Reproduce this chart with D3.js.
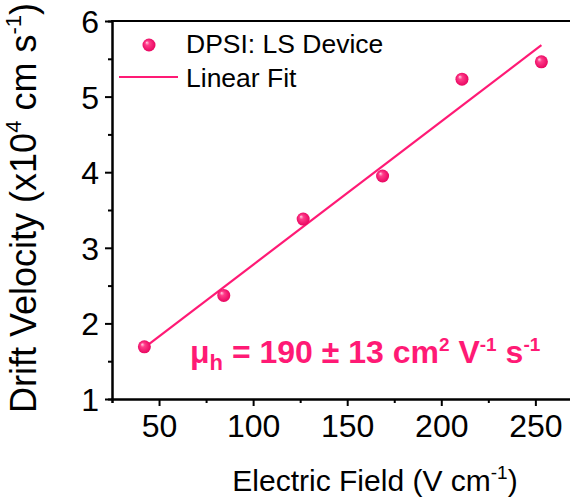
<!DOCTYPE html>
<html lang="en">
<head>
    <meta charset="UTF-8">
    <title>Drift Velocity</title>
    <script src="https://cdn.jsdelivr.net/npm/d3@7"></script>
    <style>
        body { margin: 0; background: #fff; }
        text { font-family: Arial, "Liberation Sans", sans-serif; }
    </style>
</head>
<body>
<script>
    // data
    const field = [42.2, 84.4, 126.6, 168.8, 211.0, 253.2]
    const velocity = [1.69, 2.37, 3.38, 3.95, 5.23, 5.46]
    const xTicks = [50, 100, 150, 200, 250]
    const yTicks = [1, 2, 3, 4, 5, 6]
    const pink = '#ff1a75'

    const [width, height] = [570, 503]
    const [mLeft, mTop, mBottom, mRight] = [112, 21, 399, 573]
    const svg = d3.select('body').append('svg').attr('width', width).attr('height', height)

    const x = d3.scaleLinear().domain([25, 270]).range([mLeft, mRight])
    const y = d3.scaleLinear().domain([1, 6]).range([mBottom, mTop])

    const defs = svg.append('defs')
    const grad = defs.append('radialGradient').attr('id', 'ball')
        .attr('cx', '50%').attr('cy', '50%').attr('r', '55%').attr('fx', '32%').attr('fy', '30%')
    grad.append('stop').attr('offset', '0%').attr('stop-color', '#ffd6e6')
    grad.append('stop').attr('offset', '30%').attr('stop-color', '#ff3d8a')
    grad.append('stop').attr('offset', '100%').attr('stop-color', '#e6005c')

    // linear fit (least squares)
    const mx = d3.mean(field), my = d3.mean(velocity)
    const slope = d3.sum(field, (d, i) => (d - mx) * (velocity[i] - my)) / d3.sum(field, d => (d - mx) ** 2)
    const intercept = my - slope * mx
    const fitX = d3.extent(field)

    // axes
    const minorX = d3.range(25, 275, 25).filter(v => !xTicks.includes(v))
    const minorY = d3.range(1.5, 6, 1)
    const gx = svg.append('g').attr('transform', `translate(0,${mBottom})`)
    gx.call(d3.axisBottom(x).tickValues(xTicks).tickFormat(d3.format('d')).tickSize(7).tickSizeOuter(0).tickPadding(8))
    gx.append('g').call(d3.axisBottom(x).tickValues(minorX).tickSize(4).tickFormat(''))
    const gy = svg.append('g').attr('transform', `translate(${mLeft},0)`)
    gy.call(d3.axisLeft(y).tickValues(yTicks).tickFormat(d3.format('d')).tickSize(7).tickSizeOuter(0).tickPadding(6))
    gy.append('g').call(d3.axisLeft(y).tickValues(minorY).tickSize(4).tickFormat(''))
    svg.selectAll('.domain').attr('stroke', '#000').attr('stroke-width', 2)
    svg.selectAll('.tick line').attr('stroke', '#000').attr('stroke-width', 2)
    svg.selectAll('.tick text').attr('font-size', 32).attr('fill', '#000')
        .style('font-family', 'Arial, "Liberation Sans", sans-serif')
    gy.selectAll('.tick text').attr('dy', '0.36em')
    // top frame
    svg.append('line').attr('x1', mLeft - 1).attr('x2', mRight).attr('y1', mTop).attr('y2', mTop)
        .attr('stroke', '#000').attr('stroke-width', 2)

    // fit line
    svg.append('line')
        .attr('x1', x(fitX[0])).attr('y1', y(slope * fitX[0] + intercept))
        .attr('x2', x(fitX[1])).attr('y2', y(slope * fitX[1] + intercept))
        .attr('stroke', pink).attr('stroke-width', 2.2)

    // points
    svg.selectAll('circle.pt').data(field).join('circle').attr('class', 'pt')
        .attr('cx', d => x(d)).attr('cy', (d, i) => y(velocity[i])).attr('r', 6.5)
        .attr('fill', 'url(#ball)')

    // legend
    const lg = svg.append('g')
    lg.append('circle').attr('cx', 149).attr('cy', 45).attr('r', 6.5).attr('fill', 'url(#ball)')
    lg.append('text').attr('x', 186).attr('y', 53).attr('font-size', 26.5).text('DPSI: LS Device')
    lg.append('line').attr('x1', 119).attr('x2', 178).attr('y1', 77).attr('y2', 77)
        .attr('stroke', pink).attr('stroke-width', 2.2)
    lg.append('text').attr('x', 186).attr('y', 87).attr('font-size', 26.5).text('Linear Fit')

    // annotation
    const ann = svg.append('text').attr('x', 190).attr('y', 363).attr('font-size', 32)
        .attr('font-weight', 'bold').attr('fill', pink)
    ann.append('tspan').text('\u03bc')
    ann.append('tspan').attr('font-size', 22).attr('dy', 7).text('h')
    ann.append('tspan').attr('dy', -7).text(' = 190 \u00b1 13 cm')
    ann.append('tspan').attr('font-size', 19).attr('dy', -12).text('2')
    ann.append('tspan').attr('dy', 12).text(' V')
    ann.append('tspan').attr('font-size', 19).attr('dy', -12).text('-1')
    ann.append('tspan').attr('dy', 12).text(' s')
    ann.append('tspan').attr('font-size', 19).attr('dy', -12).text('-1')

    // axis titles
    const xt = svg.append('text').attr('x', 375).attr('y', 491).attr('font-size', 30).attr('text-anchor', 'middle')
    xt.append('tspan').text('Electric Field (V cm')
    xt.append('tspan').attr('font-size', 19).attr('dy', -12).text('-1')
    xt.append('tspan').attr('dy', 12).text(')')

    const yt = svg.append('text').attr('transform', 'translate(36,208) rotate(-90)')
        .attr('font-size', 36).attr('text-anchor', 'middle')
    yt.append('tspan').text('Drift Velocity (x10')
    yt.append('tspan').attr('font-size', 22).attr('dy', -15).text('4')
    yt.append('tspan').attr('dy', 15).text(' cm s')
    yt.append('tspan').attr('font-size', 22).attr('dy', -15).text('-1')
    yt.append('tspan').attr('dy', 15).text(')')
</script>
</body>
</html>
